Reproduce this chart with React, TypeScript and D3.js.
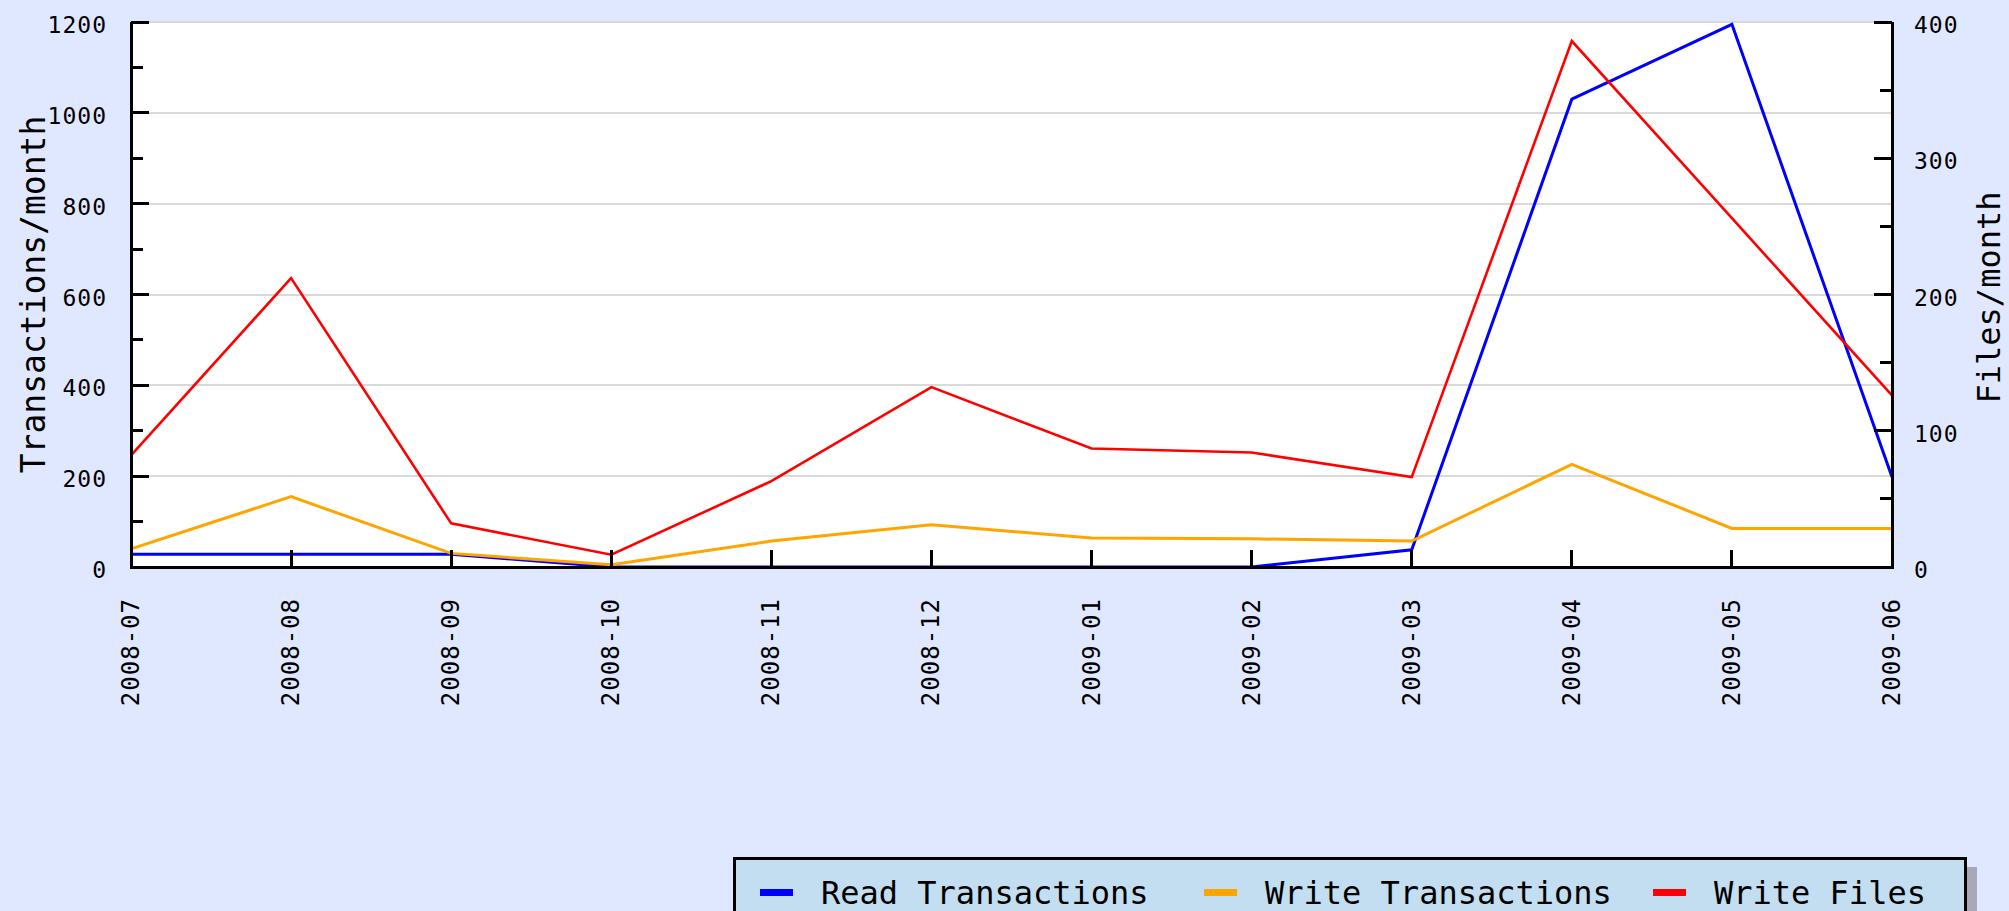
import React, { useEffect } from 'react';
import * as d3 from 'd3';

const months = ['2008-07', '2008-08', '2008-09', '2008-10', '2008-11', '2008-12',
  '2009-01', '2009-02', '2009-03', '2009-04', '2009-05', '2009-06'];
// left axis: transactions per month
const readTransactions = [28, 28, 28, 0, 0, 0, 0, 0, 38, 1030, 1195, 198];
const writeTransactions = [40, 155, 30, 5, 57, 93, 64, 62, 57, 226, 85, 85];
// right axis: files per month
const writeFiles = [82, 212, 32, 9, 63, 132, 87, 84, 66, 386, 256, 126];

const leftMajor = [0, 200, 400, 600, 800, 1000, 1200];
const leftMinor = [100, 300, 500, 700, 900, 1100];
const rightMajor = [0, 100, 200, 300, 400];
const rightMinor = [50, 150, 250, 350];

const seriesNames = ['Read Transactions', 'Write Transactions', 'Write Files'];
const seriesColors = ['#0000ff', '#ffa500', '#ff0000'];

const W = 2009, H = 911;
const left = 131, right = 1892, top = 22, bottom = 567;
const font = '"DejaVu Sans Mono", monospace';

export default function App() {
  useEffect(() => {
    document.body.style.margin = '0';
    document.body.style.overflow = 'hidden';
  }, []);

  const x = d3.scalePoint<string>().domain(months).range([left, right]);
  const yL = d3.scaleLinear().domain([0, 1200]).range([bottom, top]);
  const yR = d3.scaleLinear().domain([0, 400]).range([bottom, top]);

  const lineL = d3.line<number>().x((d, i) => x(months[i])!).y(d => yL(d));
  const lineR = d3.line<number>().x((d, i) => x(months[i])!).y(d => yR(d));

  const legendX = [760, 1204, 1653];

  return (
    <svg width={W} height={H} style={{ display: 'block', background: '#e0e8ff' }}>
      <rect x={left} y={top} width={right - left} height={bottom - top} fill="#ffffff" />

      {leftMajor.filter(v => v > 0).map(v => (
        <line key={'g' + v} x1={left} x2={right} y1={yL(v)} y2={yL(v)}
          stroke="#d9d9d9" strokeWidth={2} shapeRendering="crispEdges" />
      ))}

      <path d={lineL(readTransactions)!} fill="none" stroke={seriesColors[0]} strokeWidth={3} />
      <path d={lineL(writeTransactions)!} fill="none" stroke={seriesColors[1]} strokeWidth={3} />
      <path d={lineR(writeFiles)!} fill="none" stroke={seriesColors[2]} strokeWidth={2.6} />

      {/* axes */}
      <g stroke="#000" shapeRendering="crispEdges">
        <line x1={left} x2={left} y1={top} y2={bottom + 1.5} strokeWidth={3} />
        <line x1={right} x2={right} y1={top} y2={bottom + 1.5} strokeWidth={3} />
        <line x1={left - 1.5} x2={right + 1.5} y1={bottom} y2={bottom} strokeWidth={3} />
        {leftMajor.map(v => (
          <line key={'lM' + v} x1={left} x2={left + 18} y1={yL(v)} y2={yL(v)} strokeWidth={3} />
        ))}
        {leftMinor.map(v => (
          <line key={'lm' + v} x1={left} x2={left + 12} y1={yL(v)} y2={yL(v)} strokeWidth={3} />
        ))}
        {rightMajor.map(v => (
          <line key={'rM' + v} x1={right - 18} x2={right} y1={yR(v)} y2={yR(v)} strokeWidth={3} />
        ))}
        {rightMinor.map(v => (
          <line key={'rm' + v} x1={right - 12} x2={right} y1={yR(v)} y2={yR(v)} strokeWidth={3} />
        ))}
        {months.map(m => (
          <line key={'x' + m} x1={x(m)} x2={x(m)} y1={bottom} y2={bottom - 17} strokeWidth={3} />
        ))}
      </g>

      <g fontFamily={font} fontSize={23} fill="#000" letterSpacing={1}>
        {leftMajor.map(v => (
          <text key={'lt' + v} x={107} y={yL(v) + 3} textAnchor="end" dominantBaseline="central">{v}</text>
        ))}
        {rightMajor.map(v => (
          <text key={'rt' + v} x={1914} y={yR(v) + 3} textAnchor="start" dominantBaseline="central">{v}</text>
        ))}
        {months.map(m => (
          <text key={'xt' + m} transform={`translate(${x(m)},${598}) rotate(-90)`}
            textAnchor="end" dominantBaseline="central" fontSize={24}>{m}</text>
        ))}
      </g>

      <text transform={`translate(45,${(top + bottom) / 2}) rotate(-90)`} textAnchor="middle"
        fontFamily={font} fontSize={33} fill="#000">Transactions/month</text>
      <text transform={`translate(2000,${(top + bottom) / 2 + 3}) rotate(-90)`} textAnchor="middle"
        fontFamily={font} fontSize={32} fill="#000">Files/month</text>

      {/* legend */}
      <rect x={743} y={867} width={1234} height={100} fill="#a8a8b8" />
      <rect x={734.5} y={858.5} width={1231} height={100} fill="#c2def0" stroke="#000" strokeWidth={3} />
      {seriesNames.map((name, i) => (
        <g key={name}>
          <rect x={legendX[i]} y={889} width={33} height={7} fill={seriesColors[i]} />
          <text x={legendX[i] + 61} y={904} fontFamily={font} fontSize={32} fill="#000">{name}</text>
        </g>
      ))}
    </svg>
  );
}
